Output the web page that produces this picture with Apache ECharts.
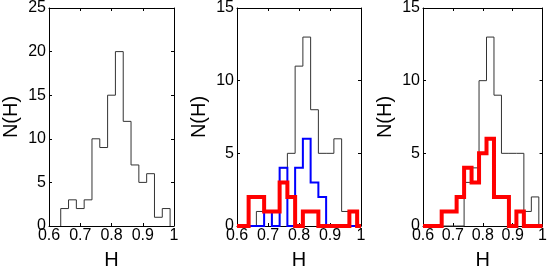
<!DOCTYPE html>
<html>
<head>
<meta charset="utf-8">
<script src="https://cdn.jsdelivr.net/npm/echarts@6/dist/echarts.min.js"></script>
<style>html,body{margin:0;padding:0;background:#fff}#c{width:550px;height:275px}</style>
</head>
<body>
<div id="c"></div>
<script>
// Bin edges (H) shared by all histograms: centres 0.65 ... 0.975
const binEdges = [0.6375,0.6625,0.6875,0.7125,0.7375,0.7625,0.7875,0.8125,0.8375,0.8625,0.8875,0.9125,0.9375,0.9625,0.9875];
// Panel 1
const p1Black = [2,3,2,3,10,9,15,20,12,7,5,6,1,2];
// Panel 2
const p2Black = [0,1,1,0,4,5,11,13,8,5,5,6,1,1];
const p2Blue  = [0,0,1,0,4,0,4,6,3,2,0,0,0,0];
const p2Red   = [2,2,1,1,3,2,0,1,1,0,0,0,0,1];
// Panel 3
const p3Black = [0,0,0,0,3,4,10,13,9,5,5,5,1,2];
const p3Red   = [0,1,1,2,4,3,5,6,2,2,0,1,0,0];

const xTicks = [0.6,0.7,0.8,0.9,1];
const xMin = 0.6, xMax = 1;
const yMax1 = 25, yMax2 = 15;

function stairs(counts, extend){
  const pts = [];
  if (extend) pts.push([xMin,0]);
  pts.push([binEdges[0],0]);
  for (let i=0;i<counts.length;i++){
    pts.push([binEdges[i],counts[i]]);
    pts.push([binEdges[i+1],counts[i]]);
  }
  pts.push([binEdges[binEdges.length-1],0]);
  if (extend) pts.push([xMax,0]);
  return pts;
}

const font = "'Liberation Sans', Arial, Helvetica, sans-serif";
const grids = [
  {left:49, top:7, width:125, height:226},
  {left:237, top:7, width:124, height:226},
  {left:423, top:7, width:125, height:226}
];
const yMaxes = [yMax1, yMax2, yMax2];

const xAxis = [], yAxis = [];
grids.forEach((g,i)=>{
  const common = {
    type:'value', min:xMin, max:xMax, interval:0.1, gridIndex:i,
    axisLine:{show:true, onZero:false, lineStyle:{color:'#000', width:1}},
    axisTick:{show:true, inside:true, length:3, lineStyle:{color:'#000'}},
    splitLine:{show:false}
  };
  xAxis.push(Object.assign({}, common, {
    position:'bottom',
    name:'H', nameLocation:'middle', nameGap:24,
    nameTextStyle:{fontFamily:font, fontSize:20, color:'#000'},
    axisLabel:{show:true, fontFamily:font, fontSize:16, color:'#000', margin:2,
      formatter: v => { const t = xTicks.find(k=>Math.abs(k-v)<1e-6); return t===undefined ? '' : String(t); } }
  }));
  xAxis.push(Object.assign({}, common, {position:'top', axisLabel:{show:false}}));
  const yc = {
    type:'value', min:0, max:yMaxes[i], interval:5, gridIndex:i,
    axisLine:{show:true, onZero:false, lineStyle:{color:'#000', width:1}},
    axisTick:{show:true, inside:true, length:3, lineStyle:{color:'#000'}},
    splitLine:{show:false}
  };
  yAxis.push(Object.assign({}, yc, {
    position:'left',
    name:'N(H)', nameLocation:'middle', nameGap:28,
    nameTextStyle:{fontFamily:font, fontSize:20, color:'#000'},
    axisLabel:{show:true, fontFamily:font, fontSize:16, color:'#000', margin:3}
  }));
  yAxis.push(Object.assign({}, yc, {position:'right', axisLabel:{show:false}}));
});

function line(data, gi, color, width, z){
  return {type:'line', xAxisIndex:gi*2, yAxisIndex:gi*2, data:data, symbol:'none',
    clip:false, silent:true, animation:false, z:z,
    lineStyle:{color:color, width:width, join:'miter'}};
}

const series = [
  line(stairs(p1Black,false), 0, '#333', 1, 2),
  line(stairs(p2Black,false), 1, '#333', 1, 2),
  line(stairs(p2Blue,true), 1, '#0000ff', 2, 3),
  line(stairs(p2Red,true), 1, '#ff0000', 4, 4),
  line(stairs(p3Black,false), 2, '#333', 1, 2),
  line(stairs(p3Red,true), 2, '#ff0000', 4, 4)
];

const chart = echarts.init(document.getElementById('c'), null, {renderer:'canvas'});
chart.setOption({animation:false, grid:grids, xAxis:xAxis, yAxis:yAxis, series:series});
</script>
</body>
</html>
